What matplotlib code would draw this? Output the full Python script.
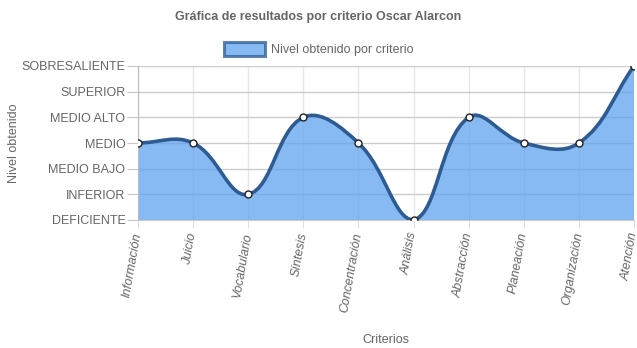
import numpy as np
import matplotlib.pyplot as plt
from matplotlib.path import Path
from matplotlib.patches import PathPatch, Patch

criterios = ['Información', 'Juicio', 'Vocabulario', 'Síntesis', 'Concentración',
             'Análisis', 'Abstracción', 'Planeación', 'Organización', 'Atención']
niveles = [3, 3, 1, 4, 3, 0, 4, 3, 3, 6]
etiquetas_y = ['DEFICIENTE', 'INFERIOR', 'MEDIO BAJO', 'MEDIO', 'MEDIO ALTO',
               'SUPERIOR', 'SOBRESALIENTE']

plt.rcParams['font.family'] = ['Liberation Sans', 'DejaVu Sans']
gris = '#666666'
linea = '#2e5b91'
relleno = '#5fa3f0'

fig = plt.figure(figsize=(6.37, 3.48), dpi=100)
ax = fig.add_axes([138/637, 128/348, 496/637, 154/348])

x = np.arange(len(criterios), dtype=float)
y = np.array(niveles, dtype=float)

# bezier con tension 0.4 (como Chart.js), distancias en pixeles
sx, sy = 496 / (len(x) - 1), 154 / 6
px, py = x * sx, y * sy
t = 0.4
cp_prev, cp_next = [], []
for i in range(len(x)):
    p0 = (px[max(i-1, 0)], py[max(i-1, 0)])
    p1 = (px[i], py[i])
    p2 = (px[min(i+1, len(x)-1)], py[min(i+1, len(x)-1)])
    d01 = np.hypot(p1[0]-p0[0], p1[1]-p0[1])
    d12 = np.hypot(p2[0]-p1[0], p2[1]-p1[1])
    s = d01 + d12
    fa = t * d01 / s if s else 0
    fb = t * d12 / s if s else 0
    ax_ = (p1[0] - fa*(p2[0]-p0[0]), p1[1] - fa*(p2[1]-p0[1]))
    bx_ = (p1[0] + fb*(p2[0]-p0[0]), p1[1] + fb*(p2[1]-p0[1]))
    cp_prev.append((ax_[0]/sx, min(max(ax_[1]/sy, 0), 6)))
    cp_next.append((bx_[0]/sx, min(max(bx_[1]/sy, 0), 6)))

verts = [(x[0], y[0])]
codes = [Path.MOVETO]
for i in range(1, len(x)):
    verts += [cp_next[i-1], cp_prev[i], (x[i], y[i])]
    codes += [Path.CURVE4] * 3
curva = Path(verts, codes)
area = Path(verts + [(x[-1], 0), (x[0], 0), (x[0], y[0])],
            codes + [Path.LINETO, Path.LINETO, Path.LINETO])

ax.add_patch(PathPatch(area, facecolor=relleno, edgecolor='none', alpha=0.75, zorder=2))
ax.add_patch(PathPatch(curva, facecolor='none', edgecolor=linea, lw=2.6, zorder=3))
ax.plot(x, y, 'o', ms=5, mfc='white', mec='#222222', mew=1, zorder=4)

ax.set_xlim(0, len(x) - 1)
ax.set_ylim(0, 6)
ax.set_yticks(range(7))
ax.set_yticklabels(etiquetas_y, fontsize=9, color=gris)
ax.set_xticks(x)
ax.set_xticklabels(criterios, fontsize=9, color=gris, style='italic',
                   rotation=80, ha='right', va='center', rotation_mode='anchor')
ax.tick_params(axis='x', length=6, color='#e0e0e0', pad=3)
ax.tick_params(axis='y', length=8, color='#c8c8c8', pad=1)
ax.grid(True, axis='y', color='#cccccc', lw=1, zorder=1)
ax.grid(True, axis='x', color='#e6e6e6', lw=1, zorder=1)
ax.set_axisbelow(True)
for sp in ['top', 'right']:
    ax.spines[sp].set_visible(False)
ax.spines['left'].set_color('#bbbbbb')
ax.spines['bottom'].set_color('#cccccc')

ax.set_xlabel('Criterios', fontsize=9, color=gris)
ax.set_ylabel('Nivel obtenido', fontsize=9, color=gris)
ax.yaxis.set_label_coords(-0.238, 0.5)
ax.xaxis.set_label_coords(0.5, -0.74)

fig.text(0.5, 0.95, 'Gráfica de resultados por criterio Oscar Alarcon',
         ha='center', va='center', fontsize=9, fontweight='bold', color=gris)
fig.legend(handles=[Patch(facecolor=relleno, alpha=0.75, edgecolor=linea, lw=2.2,
                          label='Nivel obtenido por criterio')],
           loc='center', bbox_to_anchor=(0.5, 0.858), frameon=False,
           fontsize=9, handlelength=3.3, handleheight=1.3,
           labelcolor=gris, handletextpad=0.5)

fig.savefig('out.png', dpi=100)
